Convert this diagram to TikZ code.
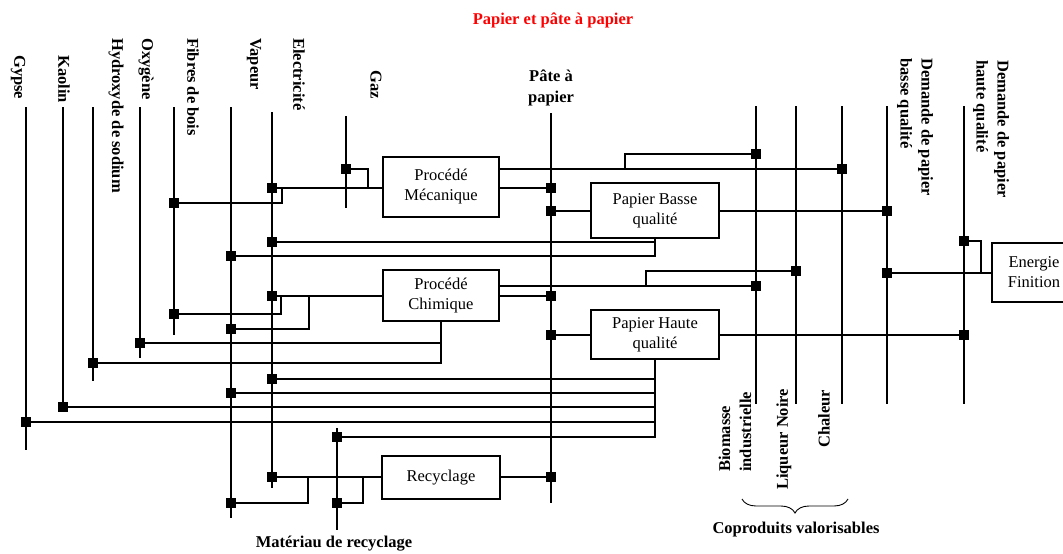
\documentclass[tikz,border=0pt]{standalone}
\usepackage{fontspec}
\setmainfont{Liberation Serif}
\usetikzlibrary{decorations.pathreplacing}
\begin{document}
\begin{tikzpicture}[x=1pt,y=-1pt]
\tikzset{
  sq/.style={rectangle,fill=black,draw=none,minimum size=10pt,inner sep=0pt,outer sep=0pt},
  proc/.style={draw,rectangle,line width=1.1pt,align=center,inner sep=0pt,font=\fontsize{16.5}{20}\selectfont},
  lbl/.style={font=\bfseries\fontsize{16.5}{21}\selectfont,inner sep=0pt,align=left},
  vlbl/.style={lbl,rotate=-90,anchor=west},
  ulbl/.style={lbl,rotate=90,anchor=west},
  ln/.style={line width=1.1pt},
}
\useasboundingbox (0,0) rectangle (1063,554);
\clip (0,0) rectangle (1063,554);

% titles and labels
\node[lbl,text=red,align=center] (title) at (553,20) {Papier et pâte à papier};
\node[lbl,align=center] (lpate) at (551,88) {Pâte à\\papier};
\node[vlbl] (lgy) at (18,55) {Gypse};
\node[vlbl] (lka) at (64,55) {Kaolin};
\node[vlbl] (lhy) at (116,38) {Hydroxyde de sodium};
\node[vlbl] (lox) at (146,38) {Oxygène};
\node[vlbl] (lfi) at (193,38) {Fibres de bois};
\node[vlbl] (lva) at (254,38) {Vapeur};
\node[vlbl] (lel) at (299,38) {Electricité};
\node[vlbl] (lgz) at (376,70) {Gaz};
\node[vlbl] (ldb) at (915,58) {Demande de papier\\basse qualité};
\node[vlbl] (ldh) at (991,60) {Demande de papier\\haute qualité};
\node[ulbl] (lbio) at (735,472) {Biomasse\\industrielle};
\node[ulbl] (lliq) at (784,490) {Liqueur Noire};
\node[ulbl] (lcha) at (824,448) {Chaleur};
\node[lbl,align=center] (lmat) at (334,544) {Matériau de recyclage};
\node[lbl,align=center] (lcop) at (796,530) {Coproduits valorisables};

% process boxes
\node[proc,minimum width=116pt,minimum height=60pt] (pm) at (441,187) {Procédé\\Mécanique};
\node[proc,minimum width=116pt,minimum height=51pt] (pc) at (441,295.5) {Procédé\\Chimique};
\node[proc,minimum width=128pt,minimum height=55pt] (pb) at (655,210.5) {Papier Basse\\qualité};
\node[proc,minimum width=128pt,minimum height=49pt] (ph) at (655,334.5) {Papier Haute\\qualité};
\node[proc,minimum width=118pt,minimum height=43pt] (rc) at (441,477.5) {Recyclage};
\node[proc,minimum width=84pt,minimum height=59pt] (ef) at (1034,272.5) {Energie\\Finition};

% stream line ends
\coordinate (gyT) at (26,107);  \coordinate (gyB) at (26,450);
\coordinate (kaT) at (63,107);  \coordinate (kaB) at (63,407);
\coordinate (hyT) at (93,107);  \coordinate (hyB) at (93,381);
\coordinate (oxT) at (140,107); \coordinate (oxB) at (140,358);
\coordinate (fiT) at (174,107); \coordinate (fiB) at (174,335);
\coordinate (vaT) at (231,107); \coordinate (vaB) at (231,518);
\coordinate (elT) at (272,112); \coordinate (elB) at (272,488);
\coordinate (gzT) at (346,116); \coordinate (gzB) at (346,208);
\coordinate (paT) at (551,113); \coordinate (paB) at (551,503);
\coordinate (maT) at (337,428); \coordinate (maB) at (337,530);
\coordinate (biT) at (756,106); \coordinate (biB) at (756,404);
\coordinate (liT) at (796,106); \coordinate (liB) at (796,404);
\coordinate (chT) at (842,106); \coordinate (chB) at (842,404);
\coordinate (dbT) at (887,106); \coordinate (dbB) at (887,404);
\coordinate (dhT) at (964,106); \coordinate (dhB) at (964,404);

\foreach \s in {gy,ka,hy,ox,fi,va,el,gz,pa,ma,bi,li,ch,db,dh}
  \draw[ln] (\s T) -- (\s B);

% junction squares
\node[sq] (f1) at (174,203) {};
\node[sq] (f2) at (174,314) {};
\node[sq] (o1) at (140,343) {};
\node[sq] (h1) at (93,363) {};
\node[sq] (k1) at (63,407) {};
\node[sq] (g1) at (26,422) {};
\node[sq] (v1) at (231,256) {};
\node[sq] (v2) at (231,329) {};
\node[sq] (v3) at (231,393) {};
\node[sq] (v4) at (231,503) {};
\node[sq] (e1) at (272,188) {};
\node[sq] (e2) at (272,242) {};
\node[sq] (e3) at (272,296) {};
\node[sq] (e4) at (272,379) {};
\node[sq] (e5) at (272,477) {};
\node[sq] (gz1) at (346,169) {};
\node[sq] (p1) at (551,188) {};
\node[sq] (p2) at (551,211) {};
\node[sq] (p3) at (551,296) {};
\node[sq] (p4) at (551,335) {};
\node[sq] (p5) at (551,477) {};
\node[sq] (m1) at (337,437) {};
\node[sq] (m2) at (337,503) {};
\node[sq] (b1) at (756,154) {};
\node[sq] (b2) at (756,286) {};
\node[sq] (l1) at (796,271) {};
\node[sq] (c1) at (842,169) {};
\node[sq] (db1) at (887,211) {};
\node[sq] (db2) at (887,273) {};
\node[sq] (dh1) at (964,241) {};
\node[sq] (dh2) at (964,335) {};

% Procede mecanique
\draw[ln] (e1) -- (pm.west |- e1);
\draw[ln] (gz1) -| (368,188);
\draw[ln] (f1) -| (282,188);
\draw[ln] (pm.east |- c1) -- (c1);
\draw[ln] (625,169) |- (b1);
\draw[ln] (pm.east |- p1) -- (p1);
% Papier basse qualite
\draw[ln] (p2) -- (pb.west |- p2);
\draw[ln] (pb.east |- db1) -- (db1);
\draw[ln] (pb.south) |- (v1);
\draw[ln] (pb.south |- e2) -- (e2);
% Procede chimique
\draw[ln] (e3) -- (pc.west |- e3);
\draw[ln] (281,296) |- (f2);
\draw[ln] (309,296) |- (v2);
\draw[ln] (pc.south) |- (h1);
\draw[ln] (pc.south |- o1) -- (o1);
\draw[ln] (pc.east |- b2) -- (b2);
\draw[ln] (646,286) |- (l1);
\draw[ln] (pc.east |- p3) -- (p3);
% Papier haute qualite
\draw[ln] (p4) -- (ph.west |- p4);
\draw[ln] (ph.east |- dh2) -- (dh2);
\draw[ln] (ph.south) |- (m1);
\draw[ln] (ph.south |- e4) -- (e4);
\draw[ln] (ph.south |- v3) -- (v3);
\draw[ln] (ph.south |- k1) -- (k1);
\draw[ln] (ph.south |- g1) -- (g1);
% Recyclage
\draw[ln] (e5) -- (rc.west |- e5);
\draw[ln] (308,477) |- (v4);
\draw[ln] (363,477) |- (m2);
\draw[ln] (rc.east |- p5) -- (p5);
% Energie finition
\draw[ln] (db2) -- (ef.west |- db2);
\draw[ln] (981,273) |- (dh1);

% brace
\draw[line width=0.9pt,decorate,decoration={brace,amplitude=14pt,mirror}] (742,499) -- (848,499);
\end{tikzpicture}
\end{document}
